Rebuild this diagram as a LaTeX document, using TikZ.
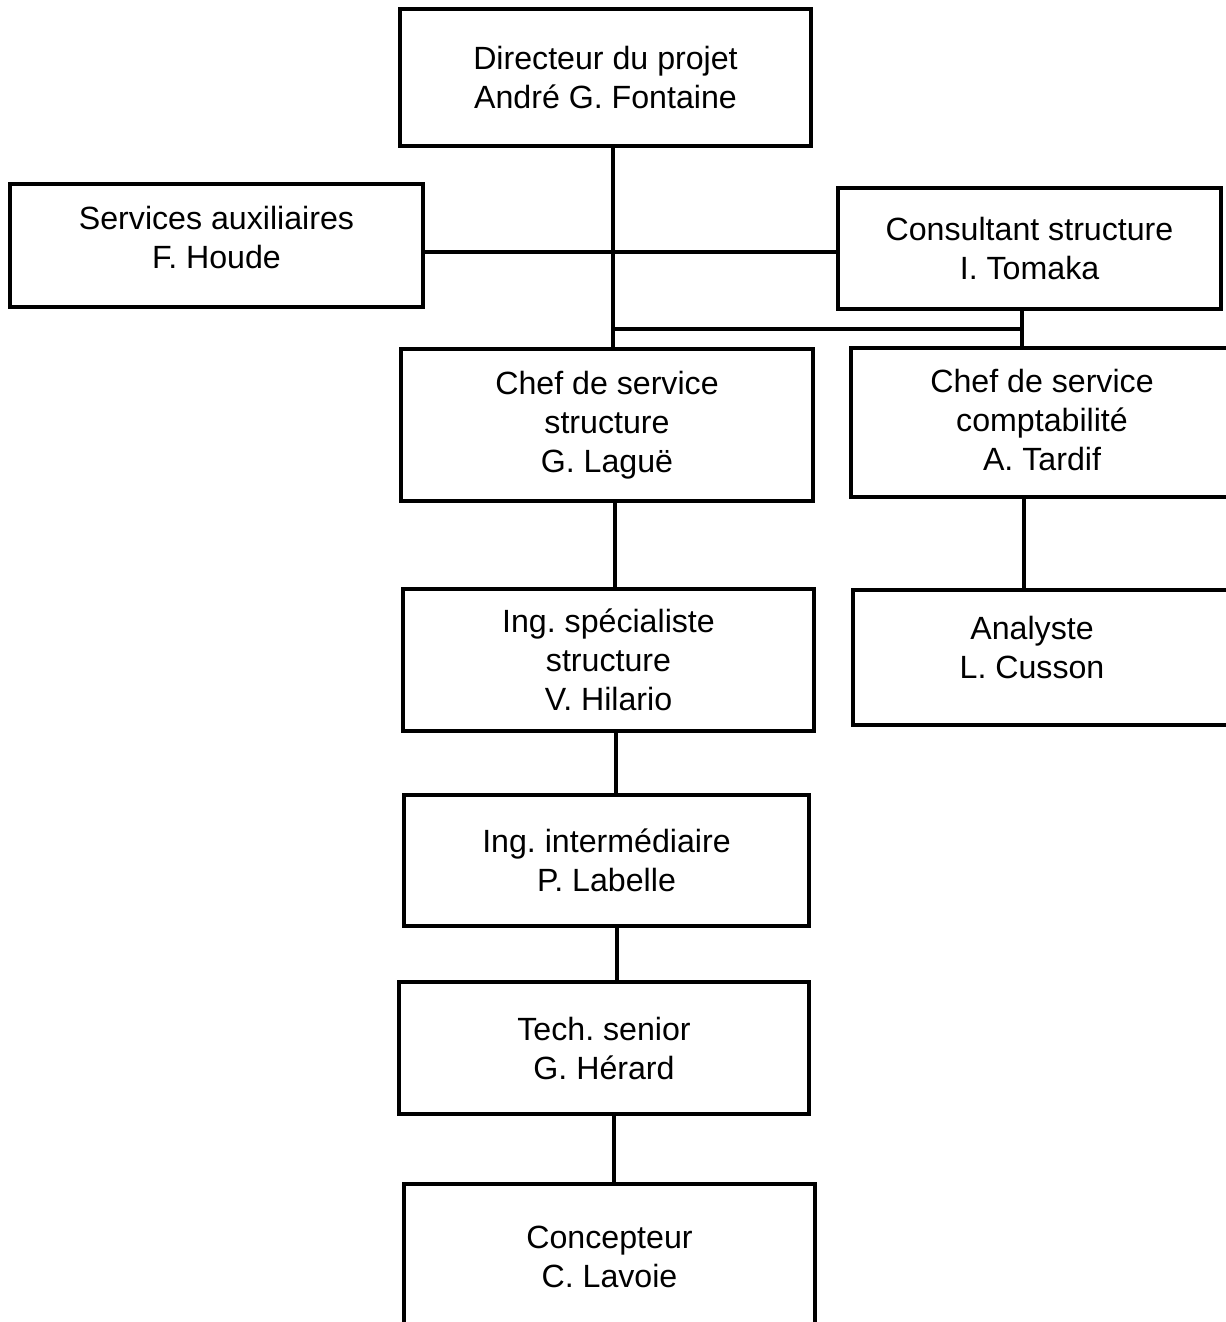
\documentclass[tikz,border=0pt]{standalone}
\usepackage{fontspec}
\setmainfont{Liberation Sans}
\frenchspacing
\begin{document}
\begin{tikzpicture}[x=0.02cm,y=-0.02cm,line width=2.2pt,font=\fontsize{18.3pt}{22.2pt}\selectfont,
  box/.style={draw,align=center,inner sep=0pt}]
\useasboundingbox(0,0)rectangle(1226,1322);
\clip(0,0)rectangle(1226,1322);
\node[box,minimum width=8.22cm,minimum height=2.74cm](dir)at(605.5,77.5){Directeur du projet\\André G. Fontaine};
\node[box,minimum width=8.26cm,minimum height=2.46cm,text depth=9.3pt](serv)at(216.5,245.5){Services auxiliaires\\F. Houde};
\node[box,minimum width=7.66cm,minimum height=2.42cm](cons)at(1029.5,248.5){Consultant structure\\I. Tomaka};
\node[box,minimum width=8.24cm,minimum height=3.04cm](cs)at(607,425){Chef de service\\structure\\G. Laguë};
\node[box,minimum width=7.64cm,minimum height=2.98cm,text depth=3.5pt](compta)at(1042,422.5){Chef de service\\comptabilité\\A. Tardif};
\node[box,minimum width=8.22cm,minimum height=2.84cm](spec)at(608.5,660){Ing. spécialiste\\structure\\V. Hilario};
\node[box,minimum width=7.6cm,minimum height=2.7cm,text depth=11.4pt](ana)at(1043,657.5){Analyste\hspace*{0.44cm}\\L. Cusson\hspace*{0.44cm}};
\node[box,minimum width=8.1cm,minimum height=2.62cm](inter)at(606.5,860.5){Ing. intermédiaire\\P. Labelle};
\node[box,minimum width=8.2cm,minimum height=2.64cm](tech)at(604,1048){Tech. senior\\G. Hérard};
\node[box,minimum width=8.22cm,minimum height=2.92cm](conc)at(609.5,1257){Concepteur\\C. Lavoie};
% liaisons
\coordinate(mid)at(613,252);
\coordinate(j)at(613,329);
\coordinate(br)at(1022,329);
\coordinate(v1)at(615,0);
\coordinate(v2)at(1024,0);
\coordinate(v3)at(616,0);
\coordinate(v4)at(617,0);
\coordinate(v5)at(614,0);
\draw(dir.south-|mid)--(cs.north-|mid);
\draw(serv.east|-mid)--(cons.west|-mid);
\draw(j)--(br);
\draw(cons.south-|br)--(compta.north-|br);
\draw(cs.south-|v1)--(spec.north-|v1);
\draw(compta.south-|v2)--(ana.north-|v2);
\draw(spec.south-|v3)--(inter.north-|v3);
\draw(inter.south-|v4)--(tech.north-|v4);
\draw(tech.south-|v5)--(conc.north-|v5);
\end{tikzpicture}
\end{document}
